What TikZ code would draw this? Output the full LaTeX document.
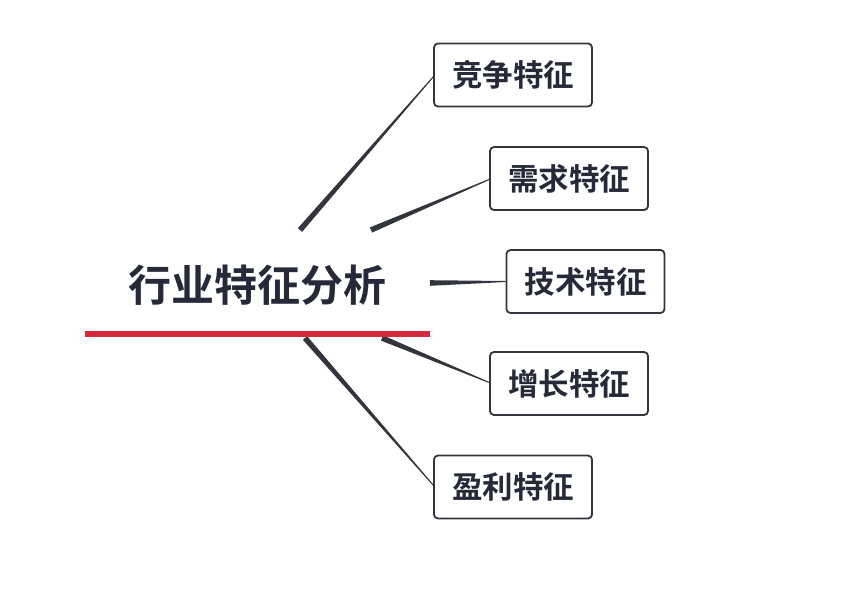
\documentclass[tikz,border=0pt]{standalone}
\usepackage{fontspec}
\newfontfamily\cjk{Noto Sans CJK SC}[BoldFont={Noto Sans CJK SC Bold}]
\usetikzlibrary{calc}
\definecolor{ink}{HTML}{262A38}
\definecolor{redl}{HTML}{D42A3C}
\definecolor{edge}{HTML}{33353D}
\tikzset{
  feat/.style={draw=edge, line width=1.8pt, rounded corners=4pt, fill=white,
    minimum width=158pt, minimum height=63pt, inner sep=0pt,
    font=\cjk\bfseries\fontsize{30.5}{30.5}\selectfont, text=ink},
  title/.style={font=\cjk\bfseries\fontsize{43}{43}\selectfont, text=ink, inner sep=0pt},
}
\newcommand{\taper}[2]{\fill[edge] ($(#1)!2.8pt!90:(#2)$) -- ($(#1)!2.8pt!-90:(#2)$) -- ($(#2)!0.5pt!90:(#1)$) -- ($(#2)!0.5pt!-90:(#1)$) -- cycle;}
\begin{document}
\begin{tikzpicture}[x=1pt,y=-1pt]
\useasboundingbox (0,0) rectangle (860,600);
\node[title] (t) at (257,285) {行业特征分析};
\node[feat] (b1) at (513,75) {竞争特征};
\node[feat] (b2) at (569,178.5) {需求特征};
\node[feat] (b3) at (585.5,281.5) {技术特征};
\node[feat] (b4) at (569,383.5) {增长特征};
\node[feat] (b5) at (513,487) {盈利特征};
\coordinate (s1) at (300,230);
\coordinate (s2) at (371,230);
\coordinate (s3) at (430,283);
\coordinate (s4) at (382,338);
\coordinate (s5) at (305,338);
\coordinate (r1) at (85,334);
\coordinate (r2) at (430,334);
\coordinate (e1) at ($(b1.west)+(0,2)$);
\coordinate (e2) at ($(b2.west)+(0,1)$);
\coordinate (e3) at (b3.west);
\coordinate (e4) at ($(b4.west)+(0,-1)$);
\coordinate (e5) at ($(b5.west)+(0,-2)$);
\taper{s1}{e1}
\taper{s2}{e2}
\taper{s3}{e3}
\taper{s4}{e4}
\taper{s5}{e5}
\draw[redl, line width=6pt] (r1) -- (r2);
\end{tikzpicture}
\end{document}
